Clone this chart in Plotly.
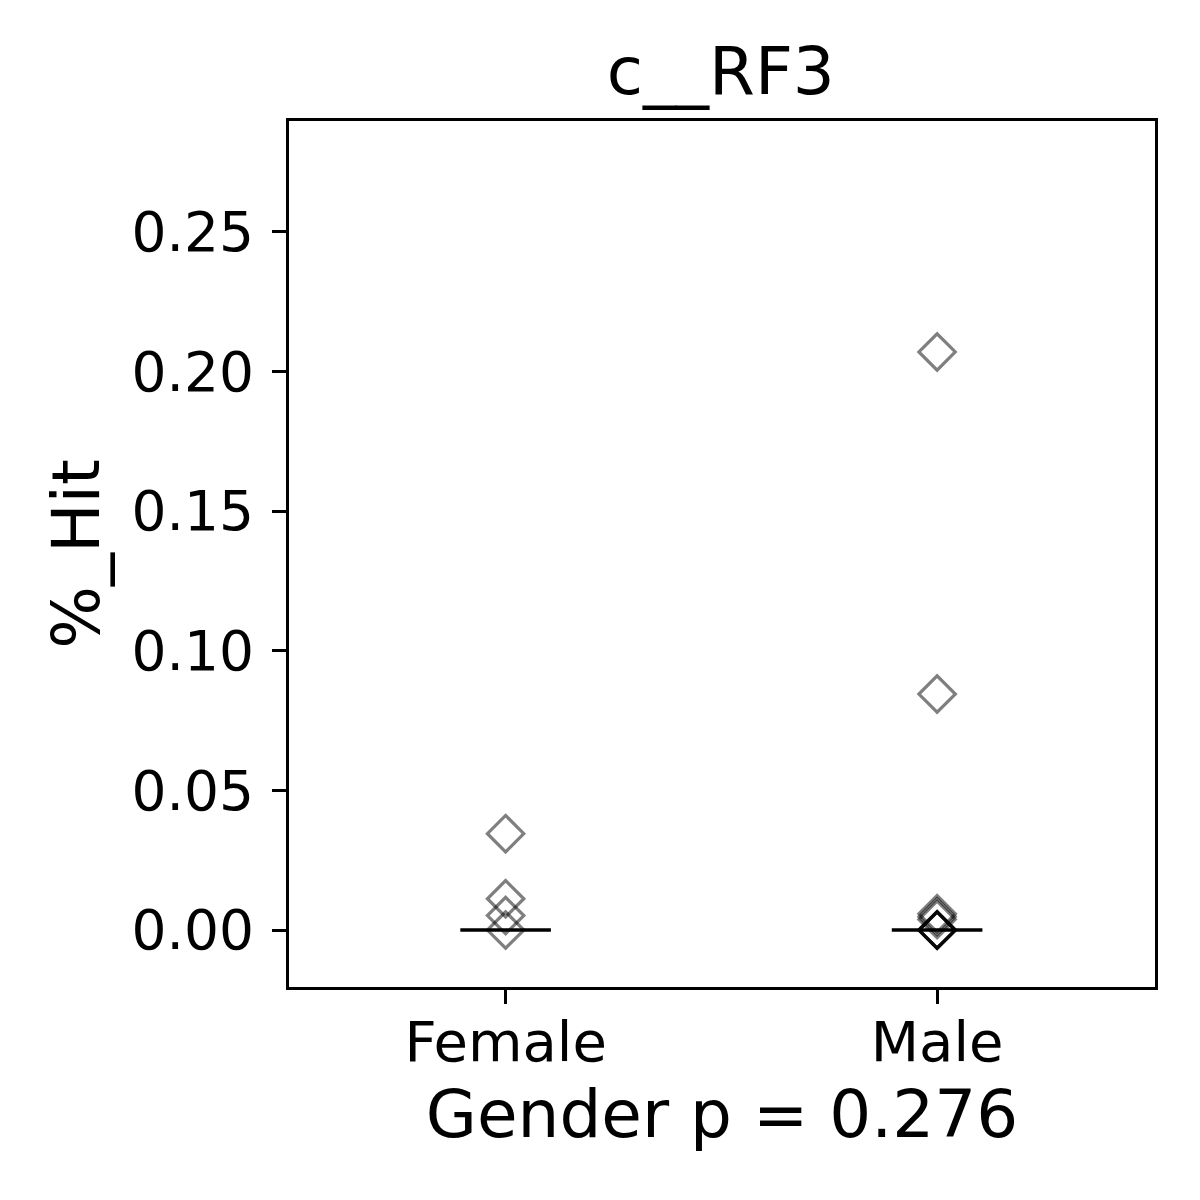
import plotly.graph_objects as go

categories = ["Female", "Male"]
female_values = [0.0345, 0.0112, 0.0052, 0.0]
male_values = [0.207, 0.0845, 0.0058, 0.0048, 0.0038, 0.0, 0.0, 0.0, 0.0, 0.0]
medians = [0.0, 0.0]
title_text = "c__RF3"
xlabel = "Gender p = 0.276"
ylabel = "%_Hit"
ytick_vals = [0.0, 0.05, 0.10, 0.15, 0.20, 0.25]
ytick_text = ["0.00", "0.05", "0.10", "0.15", "0.20", "0.25"]

FONT = "DejaVu Sans"
fig = go.Figure()

groups = [female_values, male_values]
for i, vals in enumerate(groups):
    fig.add_trace(go.Scatter(
        x=[i] * len(vals), y=vals, mode="markers",
        marker=dict(symbol="diamond-open", size=28, color="rgba(0,0,0,0.5)",
                    line=dict(width=3.2, color="rgba(0,0,0,0.5)")),
        showlegend=False, hoverinfo="y"))

for i, m in enumerate(medians):
    fig.add_trace(go.Scatter(
        x=[i - 0.105, i + 0.105], y=[m, m], mode="lines",
        line=dict(color="black", width=3.5), showlegend=False, hoverinfo="skip"))

fig.update_layout(
    width=1200, height=1200,
    paper_bgcolor="white", plot_bgcolor="white",
    margin=dict(l=281, r=53, t=113, b=221),
    font=dict(family=FONT, color="black"),
    title=dict(text=title_text, x=0.594, xanchor="center", y=0.9285,
               yanchor="bottom", yref="container",
               font=dict(size=66, family=FONT, color="black")),
)

fig.update_xaxes(
    range=[-0.502, 1.505], tickmode="array", tickvals=[0, 1], ticktext=categories,
    showgrid=False, zeroline=False, showline=True, linecolor="black", linewidth=3,
    mirror=True, ticks="outside", ticklen=14, tickwidth=3, tickcolor="black",
    ticklabelstandoff=-10,
    tickfont=dict(size=56, family=FONT, color="black"),
    title=dict(text=xlabel, font=dict(size=66, family=FONT, color="black"), standoff=18),
)
fig.update_yaxes(
    range=[-0.0204, 0.2897], tickmode="array", tickvals=ytick_vals, ticktext=ytick_text,
    showgrid=False, zeroline=False, showline=True, linecolor="black", linewidth=3,
    mirror=True, ticks="outside", ticklen=14, tickwidth=3, tickcolor="black",
    ticklabelstandoff=7,
    tickfont=dict(size=55, family=FONT, color="black"),
    title=dict(text=ylabel, font=dict(size=66, family=FONT, color="black"), standoff=11),
)

fig.write_html("out.html")
